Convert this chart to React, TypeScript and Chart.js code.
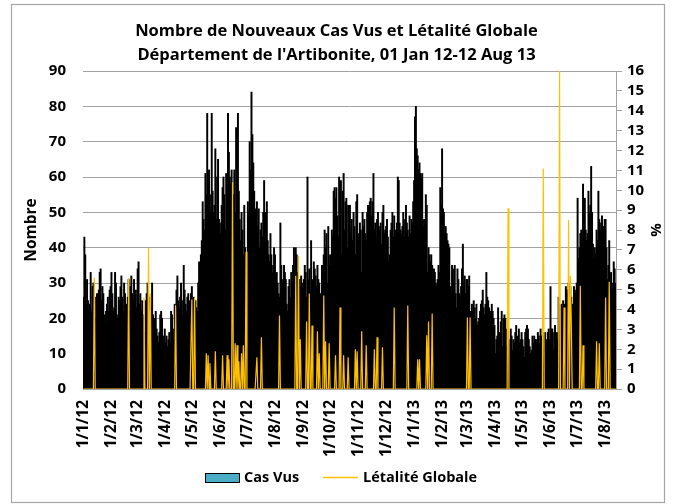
import React, { useEffect, useRef } from 'react';
import { Chart, registerables } from 'chart.js';

Chart.register(...registerables);

const TITLE_LINE_1 = 'Nombre de Nouveaux Cas Vus et Létalité Globale';
const TITLE_LINE_2 = "Département de l'Artibonite, 01 Jan 12-12 Aug 13";

// Tick labels: first day of each month shown on the axis
const monthTicks = [
  '1/1/12', '1/2/12', '1/3/12', '1/4/12', '1/5/12', '1/6/12', '1/7/12', '1/8/12', '1/9/12', '1/10/12',
  '1/11/12', '1/12/12', '1/1/13', '1/2/13', '1/3/13', '1/4/13', '1/5/13', '1/6/13', '1/7/13', '1/8/13',
];

// Daily "Cas Vus" per month
const casJan12 = [26, 43, 38, 24, 31, 25, 22, 24, 33, 22, 29, 30, 21, 20, 26, 27, 22, 28, 33, 34, 25, 29, 27, 21, 19, 22, 24, 26, 22, 28, 29];
const casFeb12 = [33, 27, 22, 23, 33, 30, 21, 20, 26, 25, 29, 32, 26, 22, 30, 27, 18, 24, 26, 31, 22, 29, 32, 27, 25, 31, 24, 28, 23];
const casMar12 = [34, 36, 24, 27, 22, 25, 21, 14, 16, 25, 27, 30, 20, 26, 24, 23, 30, 21, 18, 20, 22, 17, 15, 13, 16, 21, 22, 20, 15, 13, 17];
const casApr12 = [13, 15, 12, 14, 16, 13, 22, 21, 17, 14, 24, 21, 28, 32, 25, 23, 26, 30, 25, 21, 35, 28, 24, 22, 26, 27, 25, 23, 27, 29];
const casMay12 = [25, 26, 24, 25, 23, 22, 30, 36, 33, 38, 42, 53, 48, 45, 61, 55, 78, 58, 62, 55, 50, 78, 56, 50, 52, 68, 48, 60, 65, 48, 47];
const casJun12 = [44, 52, 57, 60, 55, 45, 61, 50, 78, 67, 60, 58, 62, 48, 55, 62, 50, 74, 70, 78, 56, 48, 42, 50, 45, 38, 52, 40, 35, 38];
const casJul12 = [53, 50, 70, 62, 84, 72, 64, 56, 51, 44, 53, 46, 51, 40, 45, 47, 43, 50, 59, 45, 50, 53, 42, 38, 36, 44, 38, 33, 35, 40, 38];
const casAug12 = [32, 33, 30, 27, 26, 47, 35, 30, 31, 35, 33, 31, 24, 22, 29, 31, 26, 33, 30, 35, 40, 32, 40, 38, 33, 30, 31, 29, 32, 27, 30];
const casSep12 = [31, 35, 33, 26, 60, 31, 34, 28, 42, 31, 30, 36, 34, 32, 29, 35, 31, 30, 27, 24, 35, 33, 38, 45, 40, 44, 30, 46, 35, 38];
const casOct12 = [33, 45, 43, 56, 57, 54, 57, 49, 43, 60, 40, 59, 38, 56, 61, 45, 53, 54, 40, 52, 49, 52, 44, 48, 42, 50, 46, 38, 53, 55, 41];
const casNov12 = [44, 47, 45, 33, 50, 46, 48, 44, 42, 50, 52, 45, 53, 54, 49, 53, 61, 45, 47, 43, 48, 50, 46, 45, 47, 41, 50, 52, 44, 45];
const casDec12 = [46, 48, 43, 36, 38, 45, 47, 50, 43, 49, 45, 44, 47, 60, 59, 47, 45, 44, 46, 50, 43, 48, 52, 47, 45, 43, 49, 44, 48, 47, 53];
const casJan13 = [59, 77, 80, 68, 66, 62, 64, 61, 60, 61, 46, 48, 45, 55, 52, 33, 40, 38, 36, 38, 35, 31, 34, 33, 30, 29, 31, 35, 33, 57, 52];
const casFeb13 = [68, 51, 50, 44, 46, 44, 42, 41, 40, 29, 27, 35, 34, 30, 35, 27, 23, 34, 31, 27, 26, 29, 34, 41, 30, 32, 27, 31];
const casMar13 = [31, 29, 32, 21, 22, 24, 22, 25, 23, 20, 24, 18, 19, 20, 22, 24, 25, 28, 23, 21, 24, 33, 26, 25, 23, 22, 21, 24, 22, 20, 18];
const casApr13 = [10, 14, 15, 23, 16, 16, 19, 22, 12, 20, 21, 20, 12, 17, 21, 12, 14, 17, 15, 11, 14, 13, 16, 18, 12, 15, 17, 13, 14, 16];
const casMay13 = [14, 12, 9, 16, 17, 18, 17, 14, 12, 10, 11, 15, 13, 15, 14, 14, 12, 16, 15, 13, 17, 15, 12, 16, 15, 16, 14, 11, 16, 17, 14];
const casJun13 = [29, 17, 17, 11, 16, 18, 15, 16, 14, 26, 24, 23, 24, 23, 25, 22, 24, 29, 28, 27, 30, 28, 29, 26, 24, 23, 29, 28, 27, 30];
const casJul13 = [54, 37, 40, 44, 45, 43, 58, 50, 54, 45, 42, 44, 56, 50, 52, 63, 50, 41, 37, 40, 38, 45, 42, 56, 48, 45, 47, 49, 44, 46, 48];
const casAug13 = [48, 40, 31, 35, 42, 29, 33, 30, 28, 36, 34, 30];

const casByMonth = [
  casJan12, casFeb12, casMar12, casApr12, casMay12, casJun12, casJul12, casAug12, casSep12, casOct12,
  casNov12, casDec12, casJan13, casFeb13, casMar13, casApr13, casMay13, casJun13, casJul13, casAug13,
];

// Létalité globale (%): days (counted from 1 Jan 12) with a non-zero value, and that value; 0 otherwise
const letaliteDays = [
  12, 50, 67, 72, 74, 102, 120, 123, 136, 138, 140, 146, 154, 159, 161, 165, 168, 170, 172, 175, 177, 180,
  192, 197, 217, 235, 238, 240, 247, 250, 253, 259, 261, 266, 268, 272, 279, 284, 288, 293, 301, 303, 308,
  313, 322, 325, 331, 344, 359, 370, 372, 380, 382, 386, 425, 428, 470, 509, 527, 532, 537, 539, 540, 550,
  553, 568, 571, 578, 582,
];
const letaliteValues = [
  5.6, 5.6, 4.6, 7.1, 4.8, 4.2, 4.5, 4.6, 1.8, 1.7, 1.3, 1.9, 1.7, 1.7, 1.5, 10.4, 2.3, 2.2, 1.4, 1.8, 2.2, 6.9,
  1.6, 2.6, 3.7, 5.7, 6.7, 2.5, 3.4, 4.8, 3.2, 2.9, 1.8, 4.7, 2.4, 2.3, 1.7, 4.1, 1.7, 1.6, 2.0, 1.9, 2.9,
  2.2, 2.0, 2.6, 2.1, 4.1, 4.2, 1.5, 1.5, 2.7, 3.4, 3.8, 3.6, 3.6, 9.1, 11.1, 16.0, 4.1, 8.5, 5.7, 3.4, 5.2,
  2.2, 2.4, 2.3, 4.6, 5.4,
];

const FONT = '"Open Sans", "Noto Sans", sans-serif';
const GRID = '#a3a3a3';

export default function App() {
  const ref = useRef<HTMLCanvasElement | null>(null);

  useEffect(() => {
    if (!ref.current) return;

    const labels: string[] = [];
    const cases: number[] = [];
    const tickIdx = new Set<number>();
    casByMonth.forEach((arr, m) => {
      const parts = monthTicks[m].split('/');
      tickIdx.add(labels.length);
      arr.forEach((v, d) => {
        labels.push(`${d + 1}/${parts[1]}/${parts[2]}`);
        cases.push(v);
      });
    });
    const letalite = labels.map(() => 0);
    letaliteDays.forEach((d, k) => {
      letalite[d] = letaliteValues[k];
    });

    const frame = {
      id: 'frame',
      beforeDraw(chart: any) {
        const c = chart.ctx;
        c.save();
        c.fillStyle = '#fff';
        c.fillRect(0, 0, chart.width, chart.height);
        c.strokeStyle = '#a6a6a6';
        c.lineWidth = 1.2;
        c.strokeRect(11.5, 4.5, 653, 498);
        c.restore();
      },
      afterDraw(chart: any) {
        const c = chart.ctx;
        c.save();
        c.fillStyle = '#4BACC6';
        c.fillRect(205, 473, 35, 10);
        c.strokeStyle = '#000';
        c.lineWidth = 1;
        c.strokeRect(205.5, 473.5, 34, 9);
        c.strokeStyle = '#FFC000';
        c.lineWidth = 1.5;
        c.beginPath();
        c.moveTo(323, 477.5);
        c.lineTo(358, 477.5);
        c.stroke();
        c.fillStyle = '#000';
        c.font = `bold 14.5px ${FONT}`;
        c.textBaseline = 'middle';
        c.textAlign = 'left';
        c.fillText('Cas Vus', 244, 478);
        c.fillText('Létalité Globale', 363, 478);
        c.restore();
      },
    };

    const chart = new Chart(ref.current, {
      type: 'bar',
      data: {
        labels,
        datasets: [
          {
            type: 'line',
            label: 'Létalité Globale',
            data: letalite,
            borderColor: '#FFC000',
            backgroundColor: '#FFC000',
            borderWidth: 1.2,
            pointRadius: 0,
            tension: 0,
            yAxisID: 'y1',
            order: 1,
          } as any,
          {
            type: 'bar',
            label: 'Cas Vus',
            data: cases,
            backgroundColor: '#000',
            borderWidth: 0,
            barThickness: 1.3,
            yAxisID: 'y',
            order: 2,
          } as any,
        ],
      },
      options: {
        animation: false,
        responsive: false,
        maintainAspectRatio: false,
        layout: { padding: 0 },
        plugins: {
          legend: { display: false },
          tooltip: { enabled: false },
          title: {
            display: true,
            text: [TITLE_LINE_1, TITLE_LINE_2],
            color: '#000',
            font: { family: FONT, size: 16.5, weight: 'bold', lineHeight: 1.5 },
            padding: { top: 18.6, bottom: 2.9 },
          },
        },
        scales: {
          x: {
            type: 'category',
            offset: true,
            grid: { display: false, drawTicks: false },
            border: { display: true, color: GRID, width: 1 },
            ticks: {
              autoSkip: false,
              minRotation: 90,
              maxRotation: 90,
              padding: 11,
              color: '#000',
              font: { family: FONT, size: 15.5, weight: 'bold' },
              callback: (_v: any, i: number) => (tickIdx.has(i) ? labels[i] : null),
            },
            afterFit: (s: any) => {
              s.height = 115;
            },
          },
          y: {
            position: 'left',
            min: 0,
            max: 90,
            ticks: { autoSkip: false, stepSize: 10, padding: 17, color: '#000', font: { family: FONT, size: 15, weight: 'bold' } },
            grid: { color: GRID, lineWidth: 1, drawTicks: false },
            border: { display: false },
            title: {
              display: true,
              text: 'Nombre',
              color: '#000',
              font: { family: FONT, size: 15.5, weight: 'bold', lineHeight: 1.2 },
              padding: { top: 22, bottom: 0 },
            },
            afterFit: (s: any) => {
              s.width = 83;
            },
          },
          y1: {
            position: 'right',
            min: 0,
            max: 16,
            ticks: { autoSkip: false, stepSize: 1, padding: 5, color: '#000', font: { family: FONT, size: 15, weight: 'bold' } },
            grid: { drawOnChartArea: false, drawTicks: true, tickLength: 6, color: GRID },
            border: { display: true, color: GRID },
            title: {
              display: true,
              text: '%',
              color: '#000',
              font: { family: FONT, size: 15, weight: 'bold', lineHeight: 1.2 },
              padding: { top: 9, bottom: 0 },
            },
            afterFit: (s: any) => {
              s.width = 57;
            },
          },
        },
      } as any,
      plugins: [frame],
    });

    return () => chart.destroy();
  }, []);

  return (
    <div style={{ position: 'fixed', left: 0, top: 0, width: 673, height: 504 }}>
      <canvas ref={ref} width={673} height={504} style={{ width: 673, height: 504 }} />
    </div>
  );
}
